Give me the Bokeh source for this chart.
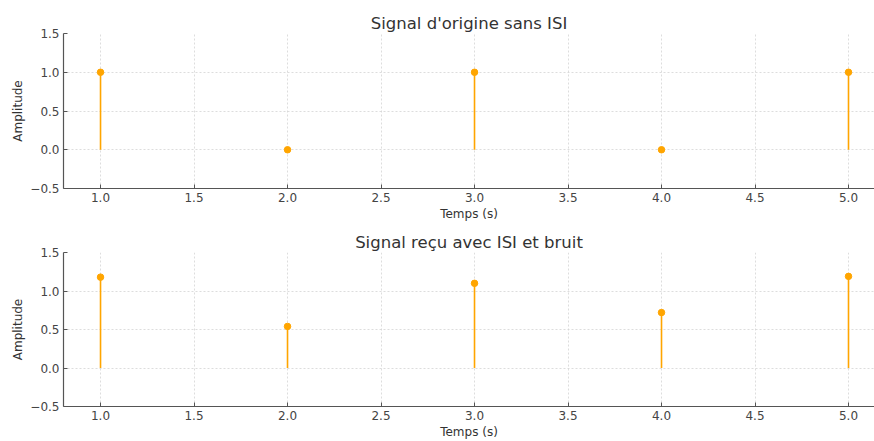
from bokeh.plotting import figure
from bokeh.layouts import column
from bokeh.models import FixedTicker, CustomJSTickFormatter, Range1d
from bokeh.embed import file_html
from bokeh.resources import INLINE

temps = [1.0, 2.0, 3.0, 4.0, 5.0]
signal_origine = [1.0, 0.0, 1.0, 0.0, 1.0]
signal_recu = [1.18, 0.54, 1.10, 0.72, 1.19]
x_ticks = [1.0, 1.5, 2.0, 2.5, 3.0, 3.5, 4.0, 4.5, 5.0]
y_ticks = [-0.5, 0.0, 0.5, 1.0, 1.5]
titre_1 = "Signal d'origine sans ISI"
titre_2 = "Signal reçu avec ISI et bruit"

FONT = "DejaVu Sans"
ORANGE = "#FFA500"
fmt = "return tick.toFixed(1).replace('-', '\\u2212');"


def make(title, values, height, top, bottom):
    p = figure(width=874, height=height, output_backend="svg", toolbar_location=None,
               x_range=Range1d(0.802, 5.139), y_range=Range1d(-0.5, 1.5),
               min_border_left=63, min_border_right=0, min_border_top=top,
               min_border_bottom=bottom)
    p.title.text = title
    p.title.align = "center"
    p.title.offset = 5
    p.title.text_font = FONT
    p.title.text_font_size = "16.5px"
    p.title.text_font_style = "normal"
    p.title.text_color = "#333333"
    p.title.standoff = 2
    p.outline_line_color = None
    p.segment(x0=temps, y0=[0] * len(temps), x1=temps, y1=values, line_color=ORANGE, line_width=1.6)
    p.scatter(x=temps, y=values, size=6.5, fill_color=ORANGE, line_color=ORANGE)
    for ax in (p.xaxis[0], p.yaxis[0]):
        ax.major_label_text_font = FONT
        ax.major_label_text_font_size = "12px"
        ax.major_label_text_color = "#444444"
        ax.axis_label_text_font = FONT
        ax.axis_label_text_font_size = "12px"
        ax.axis_label_text_font_style = "normal"
        ax.axis_label_text_color = "#333333"
        ax.axis_line_color = "#555555"
        ax.axis_line_width = 1.2
        ax.major_tick_in = 4
        ax.major_tick_out = 0
        ax.major_tick_line_color = "#555555"
        ax.minor_tick_line_color = None
        ax.formatter = CustomJSTickFormatter(code=fmt)
        ax.major_label_standoff = 4
        ax.axis_label_standoff = 2
    p.xaxis[0].ticker = FixedTicker(ticks=x_ticks)
    p.yaxis[0].ticker = FixedTicker(ticks=y_ticks)
    p.xaxis[0].axis_label = "Temps (s)"
    p.yaxis[0].axis_label = "Amplitude"
    for g in (p.xgrid[0], p.ygrid[0]):
        g.grid_line_color = "#d4d4d4"
        g.grid_line_dash = "2 2"
        g.grid_line_width = 0.8
    return p


p1 = make(titre_1, signal_origine, 228, 33, 40)
p2 = make(titre_2, signal_recu, 213, 24, 34)
layout = column(p1, p2, spacing=0)
open("out.html", "w").write(file_html(layout, INLINE))
